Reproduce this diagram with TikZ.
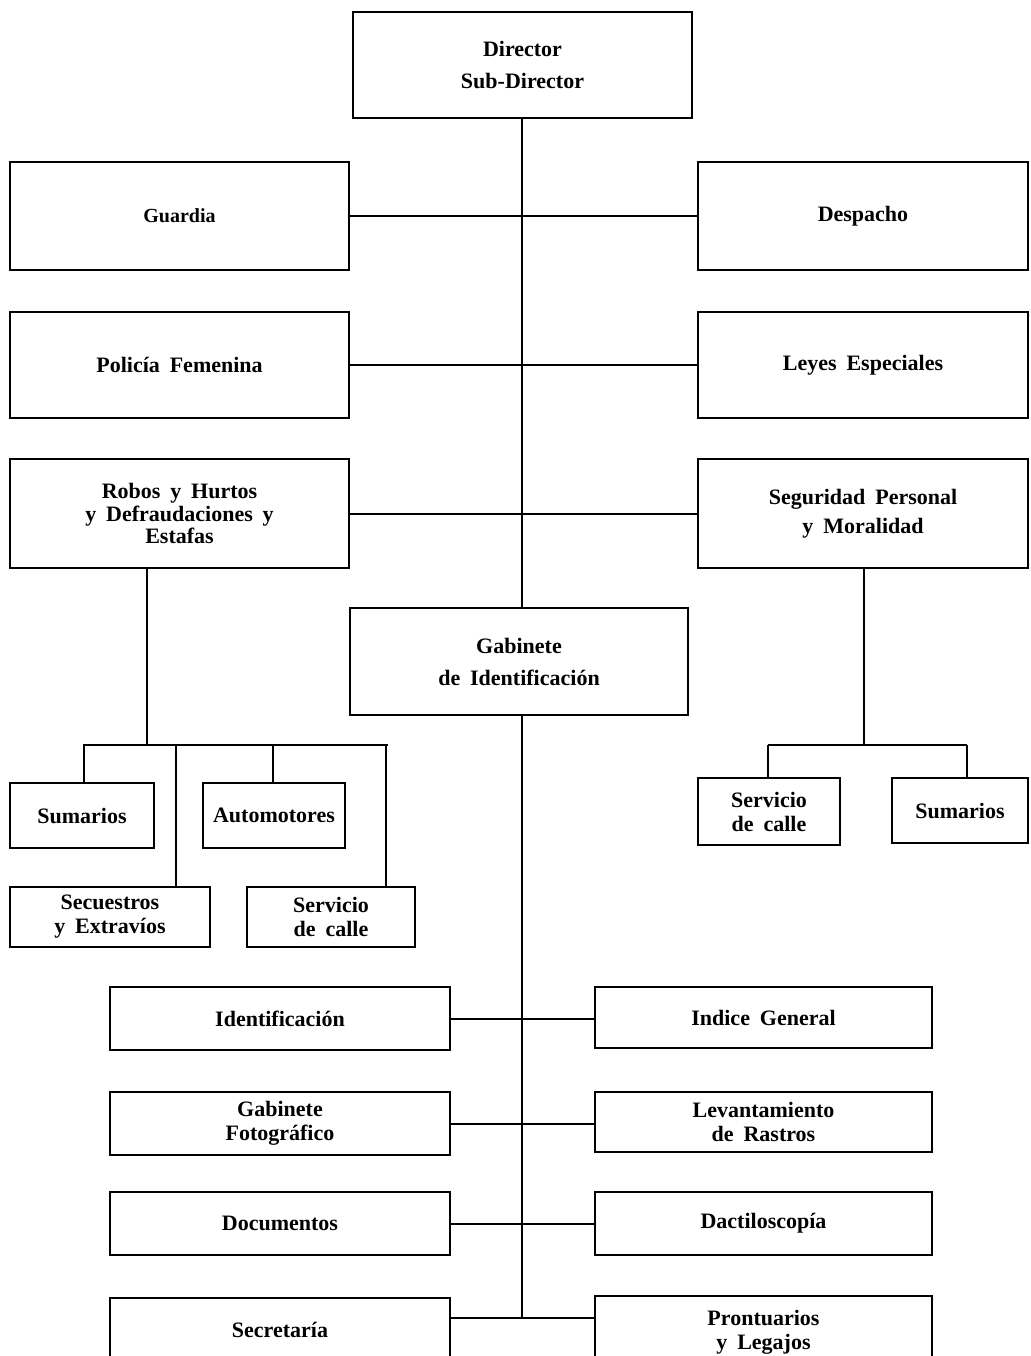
\documentclass[tikz,border=0pt]{standalone}
\usepackage{fontspec}
\setmainfont[WordSpace=1.8]{Liberation Serif}
\begin{document}
\begin{tikzpicture}[x=1pt,y=-1pt,
  box/.style={draw=black,line width=2pt,rectangle,align=center,inner sep=0pt,
    font=\fontsize{22}{24}\selectfont\bfseries},
  ln/.style={line width=2pt}]
\useasboundingbox (0,0) rectangle (1030,1356);
\clip (0,0) rectangle (1030,1356);
% top
\node[box,minimum width=339pt,minimum height=106pt] (dir) at (522.5,65) {Director\\[8pt]Sub-Director};
\node[box,minimum width=339pt,minimum height=108pt,font=\fontsize{20}{24}\selectfont\bfseries] (guard) at (179.5,216) {Guardia};
\node[box,minimum width=330pt,minimum height=108pt] (desp) at (863,216) {Despacho};
\node[box,minimum width=339pt,minimum height=106pt] (pol) at (179.5,365) {Policía Femenina};
\node[box,minimum width=330pt,minimum height=106pt] (leyes) at (863,365) {Leyes Especiales};
\node[box,minimum width=339pt,minimum height=109pt,font=\fontsize{22}{22.5}\selectfont\bfseries] (robos) at (179.5,513.5) {Robos y Hurtos\\y Defraudaciones y\\Estafas};
\node[box,minimum width=330pt,minimum height=109pt] (seg) at (863,513.5) {Seguridad Personal\\[5pt]y Moralidad};
\node[box,minimum width=338pt,minimum height=107pt] (gab) at (519,661.5) {Gabinete\\[8pt]de Identificación};
% left sub
\node[box,minimum width=144pt,minimum height=65pt] (sum1) at (82,815.5) {Sumarios};
\node[box,minimum width=142pt,minimum height=65pt] (auto) at (274,815.5) {Automotores};
\node[box,minimum width=200pt,minimum height=60pt] (secu) at (110,917) {Secuestros\\y Extravíos};
\node[box,minimum width=168pt,minimum height=60pt] (serv1) at (331,917) {Servicio\\de calle};
% right sub
\node[box,minimum width=142pt,minimum height=67pt] (serv2) at (769,811.5) {Servicio\\de calle};
\node[box,minimum width=136pt,minimum height=65pt] (sum2) at (960,810.5) {Sumarios};
% lower
\node[box,minimum width=340pt,minimum height=63pt] (ident) at (280,1018.5) {Identificación};
\node[box,minimum width=337pt,minimum height=61pt] (indice) at (763.5,1017.5) {Indice General};
\node[box,minimum width=340pt,minimum height=63pt] (foto) at (280,1123.5) {Gabinete\\Fotográfico};
\node[box,minimum width=337pt,minimum height=60pt] (lev) at (763.5,1122) {Levantamiento\\de Rastros};
\node[box,minimum width=340pt,minimum height=63pt] (doc) at (280,1223.5) {Documentos};
\node[box,minimum width=337pt,minimum height=63pt] (dact) at (763.5,1223.5) {Dactiloscopía};
\node[box,minimum width=340pt,minimum height=72pt] (secr) at (280,1334) {\raisebox{8pt}{Secretaría}};
\node[box,minimum width=337pt,minimum height=74pt] (pront) at (763.5,1333) {\raisebox{10pt}{\begin{tabular}{@{}c@{}}Prontuarios\\y Legajos\end{tabular}}};
% main spine
\coordinate (spine) at (522,0);
\draw[ln] (dir.south -| spine) -- (gab.north -| spine);
\coordinate (spend) at (522,1318);
\draw[ln] (gab.south -| spine) -- (spend);
\draw[ln] (guard.east) -- (guard.east -| desp.west);
\draw[ln] (pol.east) -- (pol.east -| leyes.west);
\draw[ln] (robos.east) -- (robos.east -| seg.west);
\draw[ln] (ident.east) -- (ident.east -| indice.west);
\draw[ln] (foto.east) -- (foto.east -| lev.west);
\draw[ln] (doc.east) -- (doc.east -| dact.west);
\draw[ln] (secr.east |- spend) -- (pront.west |- spend);
% robos children
\coordinate (rb) at (147,745);
\coordinate (rbl) at (83,745);
\coordinate (rbr) at (388,745);
\draw[ln] (robos.south -| rb) -- (rb);
\draw[ln] (rbl) -- (rbr);
\coordinate (d1) at (84,745);
\coordinate (d2) at (176,745);
\coordinate (d3) at (273,745);
\coordinate (d4) at (386,745);
\draw[ln] (d1) -- (d1 |- sum1.north);
\draw[ln] (d2) -- (d2 |- secu.north);
\draw[ln] (d3) -- (d3 |- auto.north);
\draw[ln] (d4) -- (d4 |- serv1.north);
% seguridad children
\coordinate (sb) at (864,745);
\coordinate (sbl) at (768,745);
\coordinate (sbr) at (967,745);
\draw[ln] (seg.south -| sb) -- (sb);
\draw[ln] (sbl) -- (sbr);
\draw[ln] (sbl) -- (sbl |- serv2.north);
\draw[ln] (sbr) -- (sbr |- sum2.north);
\end{tikzpicture}
\end{document}
